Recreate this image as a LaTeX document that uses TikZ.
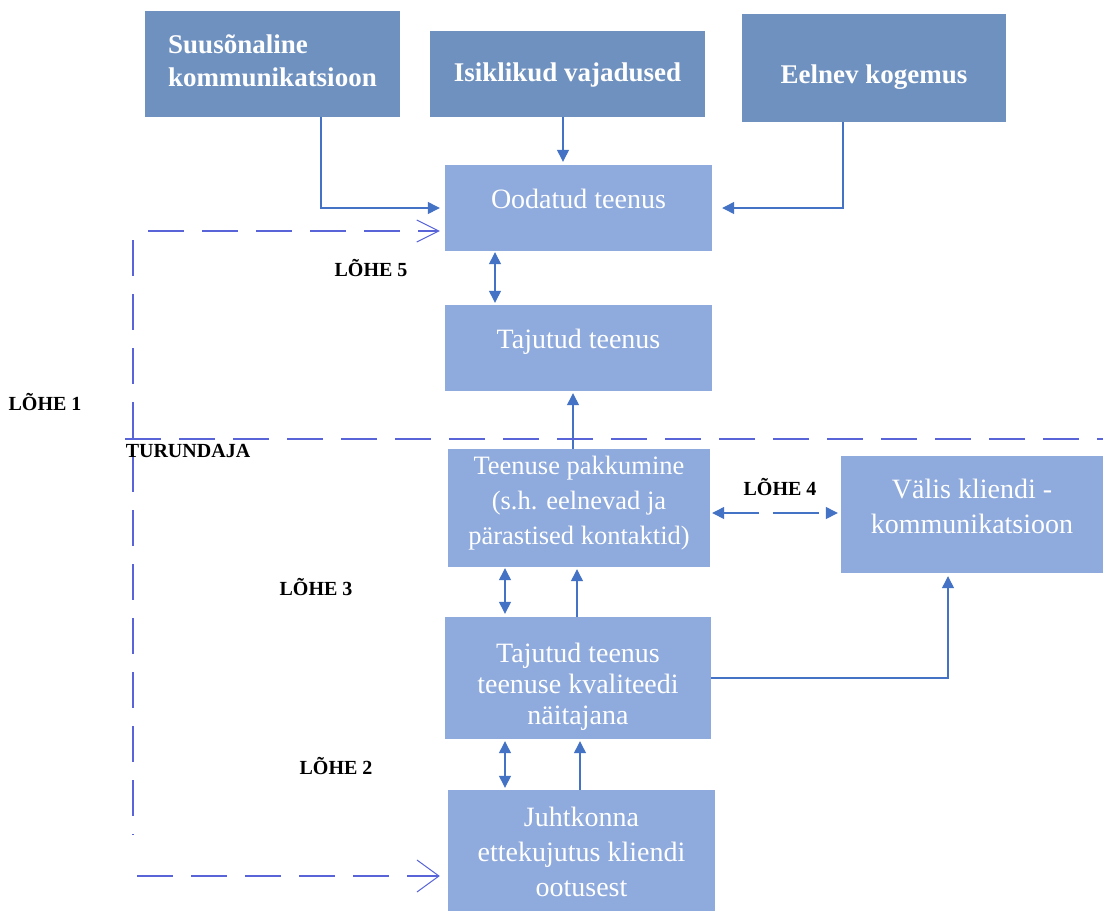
\documentclass[tikz,border=0pt]{standalone}
\usepackage{fontspec}
\setmainfont{Liberation Serif}
\usepackage{xcolor}
\usepackage{tikz}
\usetikzlibrary{arrows.meta,calc}

\definecolor{topfill}{RGB}{111,145,191}
\definecolor{midfill}{RGB}{143,170,220}
\definecolor{linkblue}{RGB}{68,114,196}
\definecolor{gapblue}{RGB}{88,100,216}

\begin{document}
\begin{tikzpicture}[x=1pt,y=-1pt,>={Triangle[length=12pt,width=12pt]},
  topbox/.style={fill=topfill,inner sep=0pt},
  midbox/.style={fill=midfill,inner sep=0pt},
  toptext/.style={text=white,inner sep=0pt,font=\bfseries\fontsize{27}{33}\selectfont},
  midtext/.style={text=white,inner sep=0pt,align=center,font=\fontsize{28}{35}\selectfont},
  link/.style={draw=linkblue,line width=1.3pt},
  gapline/.style={draw=gapblue,line width=1.4pt,dash pattern=on 36pt off 18pt},
  openarrow/.style={-{Straight Barb[length=22pt,width=#1,line width=1pt]}},
  gaplabel/.style={font=\bfseries\fontsize{20}{22}\selectfont}]
  \useasboundingbox (0,0) rectangle (1103,911);
  \fill[white] (0,0) rectangle (1103,911);
  % customer side
  \node[topbox,minimum width=255pt,minimum height=106pt,
    label={[toptext,align=left,yshift=3.5pt]center:Suusõnaline\\kommunikatsioon}] (suus) at (272.5,64) {};
  \node[topbox,minimum width=275pt,minimum height=86pt,
    label={[toptext,yshift=-1pt]center:Isiklikud vajadused}] (isik) at (567.5,74) {};
  \node[topbox,minimum width=264pt,minimum height=108pt,
    label={[toptext,yshift=-9pt]center:Eelnev kogemus}] (eel) at (874,68) {};
  \node[midbox,minimum width=267pt,minimum height=86pt,
    label={[midtext,yshift=9pt]center:Oodatud teenus}] (ood) at (578.5,208) {};
  \node[midbox,minimum width=267pt,minimum height=86pt,
    label={[midtext,yshift=6pt]center:Tajutud teenus}] (taj) at (578.5,348) {};
  % marketer side
  \node[midbox,minimum width=262pt,minimum height=118pt,
    label={[midtext,font=\fontsize{26.5}{35}\selectfont,yshift=5pt]center:Teenuse pakkumine\\(s.h. eelnevad ja\\pärastised kontaktid)}] (pak) at (579,508) {};
  \node[midbox,minimum width=262pt,minimum height=117pt,
    label={[midtext,yshift=8pt]center:Välis kliendi -\\kommunikatsioon}] (val) at (972,514.5) {};
  \node[midbox,minimum width=266pt,minimum height=122pt,
    label={[midtext,font=\fontsize{28}{31}\selectfont,yshift=-9pt]center:Tajutud teenus\\teenuse kvaliteedi\\näitajana}] (kva) at (578,678) {};
  \node[midbox,minimum width=267pt,minimum height=121pt,
    label={[midtext,yshift=-1pt]center:Juhtkonna\\ettekujutus kliendi\\ootusest}] (juht) at (581.5,850.5) {};

  \draw[link,->] ([xshift=48.5pt]suus.south) |- ([xshift=-5pt]ood.west);
  \draw[link,->,shorten >=3pt] ([xshift=-4.5pt]isik.south) -- ([xshift=-4.5pt]isik.south |- ood.north);
  \draw[link,->] ([xshift=-31pt]eel.south) |- ([xshift=10pt]ood.east);
  \draw[link,<->,shorten <=1pt,shorten >=2pt] ([xshift=-83.5pt]ood.south) -- ([xshift=-83.5pt]ood.south |- taj.north);
  \draw[link,->,shorten >=2pt] ([xshift=-6pt]pak.north) -- ([xshift=-6pt]pak.north |- taj.south);
  \draw[link,<->,dash pattern=on 35pt off 14pt on 46pt off 15pt,shorten <=2pt,shorten >=3pt] ([yshift=-5pt]pak.east) -- ([yshift=-5pt]pak.east -| val.west);
  \draw[link,->,shorten >=3pt] (kva.east) -| ([xshift=-24pt]val.south);
  \draw[link,<->,shorten <=1pt,shorten >=3pt] ([xshift=-74pt]pak.south) -- ([xshift=-74pt]pak.south |- kva.north);
  \draw[link,->,shorten >=2pt] ([xshift=-1pt]kva.north) -- ([xshift=-1pt]kva.north |- pak.south);
  \draw[link,<->,shorten <=2pt,shorten >=2pt] ([xshift=-73pt]kva.south) -- ([xshift=-73pt]kva.south |- juht.north);
  \draw[link,->,shorten >=2pt] ([xshift=-1.5pt]juht.north) -- ([xshift=-1.5pt]juht.north |- kva.south);

  % gap 1 and marketer line
  \coordinate (g1top) at (148,231);
  \coordinate (g1up) at (133,240);
  \coordinate (g1down) at (133,835);
  \coordinate (g1bot) at (137,876);
  \coordinate (turL) at (125,439);
  \coordinate (turR) at (1103,439);
  \draw[gapline,openarrow=22pt,shorten >=5pt] (g1top) -- (g1top -| ood.west);
  \draw[gapline] (g1up) -- (g1down);
  \draw[gapline,openarrow=32pt,shorten >=8pt] (g1bot) -- (g1bot -| juht.west);
  \draw[gapline] (turL) -- (turR);

  \node[gaplabel] (gap5) at (371,268) {LÕHE 5};
  \node[gaplabel] (gap1) at (45,402) {LÕHE 1};
  \node[gaplabel] (turundaja) at (188,451) {TURUNDAJA};
  \node[gaplabel] (gap4) at (780,487) {LÕHE 4};
  \node[gaplabel] (gap3) at (316,587) {LÕHE 3};
  \node[gaplabel] (gap2) at (336,766) {LÕHE 2};
\end{tikzpicture}
\end{document}
